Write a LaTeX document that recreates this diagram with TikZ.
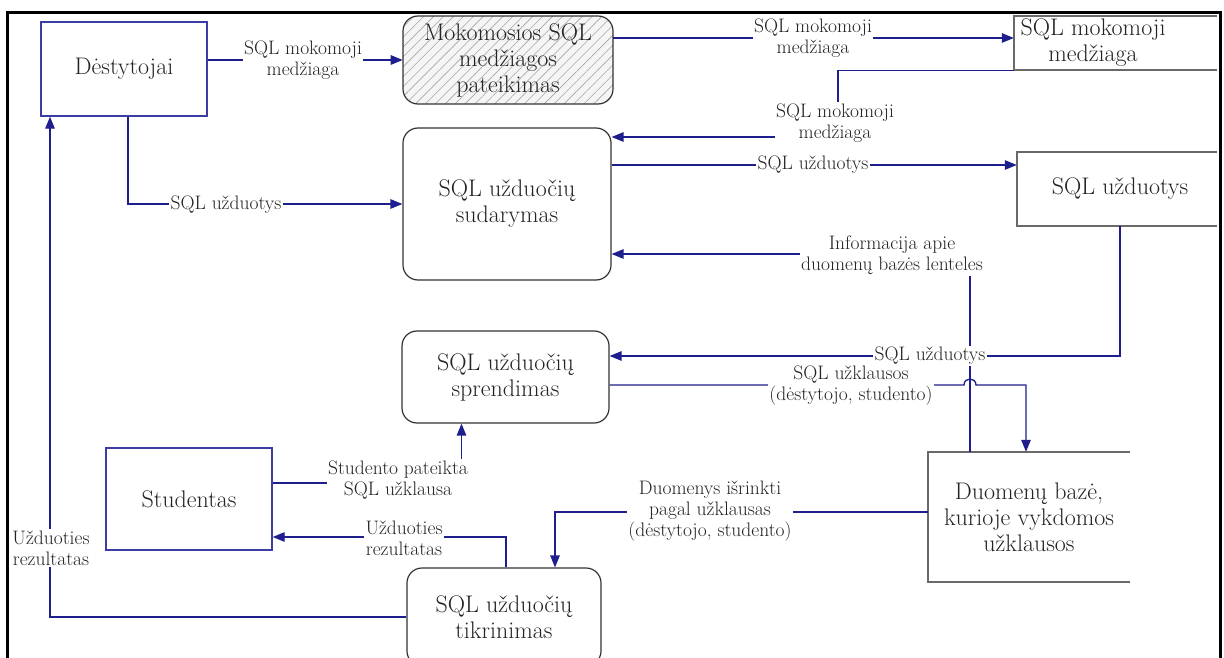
\documentclass[tikz,border=0pt]{standalone}
\usepackage{fontspec}
\usetikzlibrary{arrows.meta,patterns.meta,calc}
\definecolor{flow}{RGB}{30,30,140}
\definecolor{entity}{RGB}{60,60,165}
\definecolor{storeln}{RGB}{105,105,105}
\definecolor{ink}{RGB}{35,35,35}
\begin{document}
\begin{tikzpicture}[x=1pt,y=-1pt,
  every node/.style={text=ink},
  boxfont/.style={font=\fontsize{24}{26}\selectfont},
  proc/.style={boxfont, draw=black!80, line width=1.2pt, rounded corners=15pt, align=center, inner sep=0pt},
  ext/.style={boxfont, draw=entity, line width=1.4pt, align=center, inner sep=0pt},
  store/.style={boxfont, align=center, inner sep=0pt},
  storeline/.style={draw=storeln, line width=2pt},
  arr/.style={draw=flow, line width=1.3pt, -{Triangle[length=12pt,width=9.5pt]}},
  lbl/.style={fill=white, align=center, font=\fontsize{19.5}{21}\selectfont, inner sep=1.5pt},
]
\useasboundingbox (0,0) rectangle (1224,658);

% outer frame (open at the bottom)
\draw[line width=3pt] (7,660) -- (7,13) -- (1220,13) -- (1220,660);
\coordinate (fr) at (1217,0);

% external entities
\node[ext, minimum width=166pt, minimum height=94pt] (dest) at (124,69) {Dėstytojai};
\node[ext, minimum width=166pt, minimum height=102pt] (stud) at (189,499) {Studentas};

% processes
\node[proc, minimum width=210pt, minimum height=88pt,
      preaction={fill=black!4},
      pattern={Lines[angle=45,distance=7pt,line width=0.6pt]}, pattern color=black!35]
      (mok) at (508,60) {Mokomosios SQL\\medžiagos\\pateikimas};
\node[proc, minimum width=208pt, minimum height=152pt] (sud) at (507,204) {SQL užduočių\\sudarymas};
\node[proc, minimum width=207pt, minimum height=92pt] (spr) at (505.5,377) {SQL užduočių\\sprendimas};
\node[proc, minimum width=194pt, minimum height=98pt] (tik) at (504,617) {SQL užduočių\\tikrinimas};

% data stores
\node[store, minimum width=158pt, minimum height=54pt] (smed) at (1093,43) {SQL mokomoji\\medžiaga};
\draw[storeline] (smed.north west -| fr) -- (smed.north west) -- (smed.south west) -- (smed.south west -| fr);
\node[store, minimum width=206pt, minimum height=74pt] (suz) at (1120,189) {SQL užduotys};
\draw[storeline] (suz.north west -| fr) -- (suz.north west) -- (suz.south west) -- (suz.south west -| fr);
\node[store, minimum width=202pt, minimum height=130pt] (db) at (1029,517) {Duomenų bazė,\\kurioje vykdomos\\užklausos};
\draw[storeline] (db.north east) -- (db.north west) -- (db.south west) -- (db.south east);

% helper points
\coordinate (k3) at (838,137);
\coordinate (hop) at (970,385);

% data flows
\draw[arr] (dest.east |- mok.west) -- (mok.west);
\draw[arr] ([yshift=22pt]mok.east) -- ([yshift=22pt]mok.east -| smed.west);
\draw[arr] (smed.south west) -| (k3) -- (k3 -| sud.east);
\draw[arr] ([yshift=39pt]sud.east) -- ([yshift=39pt]sud.east -| suz.west);
\draw[arr] ([xshift=4pt]dest.south) |- (sud.west);
\draw[arr] ([xshift=-59pt]db.north) |- ([yshift=-50pt]sud.east);
\draw[arr] (suz.south) |- ([yshift=21pt]spr.east);
\draw[arr] ([yshift=-8pt]spr.east) -- ([xshift=-6pt]hop)
  .. controls ([xshift=-6pt,yshift=8pt]hop) and ([xshift=6pt,yshift=8pt]hop) .. ([xshift=6pt]hop)
  -- ([xshift=-3pt]db.north |- hop) -- ([xshift=-3pt]db.north);
\draw[arr] ([yshift=16pt]stud.east) -| ([xshift=-44pt]spr.south);
\draw[arr] ([xshift=2pt]tik.north) |- ([yshift=-38pt]stud.east);
\draw[arr] (tik.west) -| ([xshift=-74pt]dest.south);
\draw[arr] ([yshift=5pt]db.west) -| ([xshift=51pt]tik.north);

% flow labels
\node[lbl] (l1) at (303,60) {SQL mokomoji\\medžiaga};
\node[lbl] (l2) at (813,38) {SQL mokomoji\\medžiaga};
\node[lbl] (l3) at (835,123) {SQL mokomoji\\medžiaga};
\node[lbl] (l4) at (813,165) {SQL užduotys};
\node[lbl] (l5) at (226,205) {SQL užduotys};
\node[lbl] (l6) at (892,255) {Informacija apie\\duomenų bazės lenteles};
\node[lbl] (l7) at (930,356) {SQL užduotys};
\node[lbl] (l8) at (851,386) {SQL užklausos\\(dėstytojo, studento)};
\node[lbl] (l9) at (398,480) {Studento pateikta\\SQL užklausa};
\node[lbl] (l10) at (404,538) {Užduoties\\rezultatas};
\node[lbl] (l11) at (51,548) {Užduoties\\rezultatas};
\node[lbl] (l12) at (710,511) {Duomenys išrinkti\\pagal užklausas\\(dėstytojo, studento)};
\end{tikzpicture}
\end{document}
